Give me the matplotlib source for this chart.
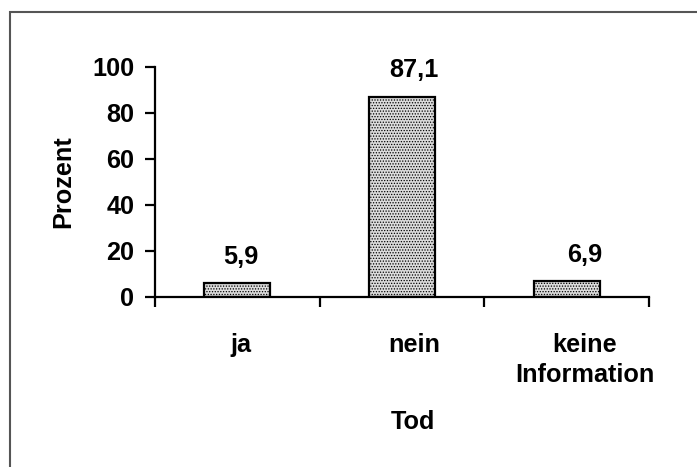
import matplotlib.pyplot as plt
from matplotlib.patches import Rectangle

categories = ['ja', 'nein', 'keine\nInformation']
prozent = [5.9, 87.1, 6.9]
value_labels = ['5,9', '87,1', '6,9']
yticks = [0, 20, 40, 60, 80, 100]

FS = 18.2
# texts sit a little right of the bar centres (pixels)
text_shift = [4, 12, 18]

plt.rcParams['font.family'] = ['Liberation Sans', 'DejaVu Sans']
plt.rcParams['font.weight'] = 'bold'
plt.rcParams['hatch.color'] = '#8a8a8a'
plt.rcParams['hatch.linewidth'] = 0.6

W, H = 697, 467
fig = plt.figure(figsize=(W / 100, H / 100), dpi=100)
ax_w = 649 - 155
ax = fig.add_axes([155 / W, (H - 297) / H, ax_w / W, (297 - 67) / H])

# grey border around the whole chart area (runs off right/bottom)
fig.patches.append(Rectangle((10 / W, -0.1), 1.2, (H - 12) / H + 0.1,
                             transform=fig.transFigure, fill=False,
                             edgecolor='#555555', linewidth=1.5))

x = list(range(len(categories)))
bars = ax.bar(x, prozent, width=0.40, color='#dcdcdc', edgecolor='black',
              linewidth=1.6, hatch='......')

for b, txt, dx in zip(bars, value_labels, text_shift):
    ax.annotate(txt, (b.get_x() + b.get_width() / 2, b.get_height()),
                xytext=(dx * 0.72, 14), textcoords='offset points',
                ha='center', va='baseline', fontsize=FS, fontweight='bold')

ax.set_xlim(-0.5, len(categories) - 0.5)
ax.set_ylim(0, 100)
ax.set_yticks(yticks)
ax.set_yticklabels([str(t) for t in yticks])

# category separators as ticks, labels between them
px_per_cat = ax_w / len(categories)
ax.set_xticks([i - 0.5 for i in range(len(categories) + 1)])
ax.set_xticklabels([])
ax.set_xticks([i + dx / px_per_cat for i, dx in zip(x, text_shift)],
              minor=True)
ax.set_xticklabels(categories, minor=True, fontsize=FS, fontweight='bold',
                   linespacing=1.3)
ax.tick_params(axis='x', which='major', direction='out', length=7, width=1.6)
ax.tick_params(axis='x', which='minor', length=0, pad=26)
ax.tick_params(axis='y', direction='out', length=7, width=1.6, pad=8,
               labelsize=FS)

for s in ['top', 'right']:
    ax.spines[s].set_visible(False)
for s in ['left', 'bottom']:
    ax.spines[s].set_linewidth(1.6)

ax.set_ylabel('Prozent', fontsize=FS, fontweight='bold', labelpad=12)
ax.set_xlabel('Tod', fontsize=FS, fontweight='bold', labelpad=17)
ax.xaxis.label.set_x(0.522)

fig.savefig('out.png', dpi=100)
